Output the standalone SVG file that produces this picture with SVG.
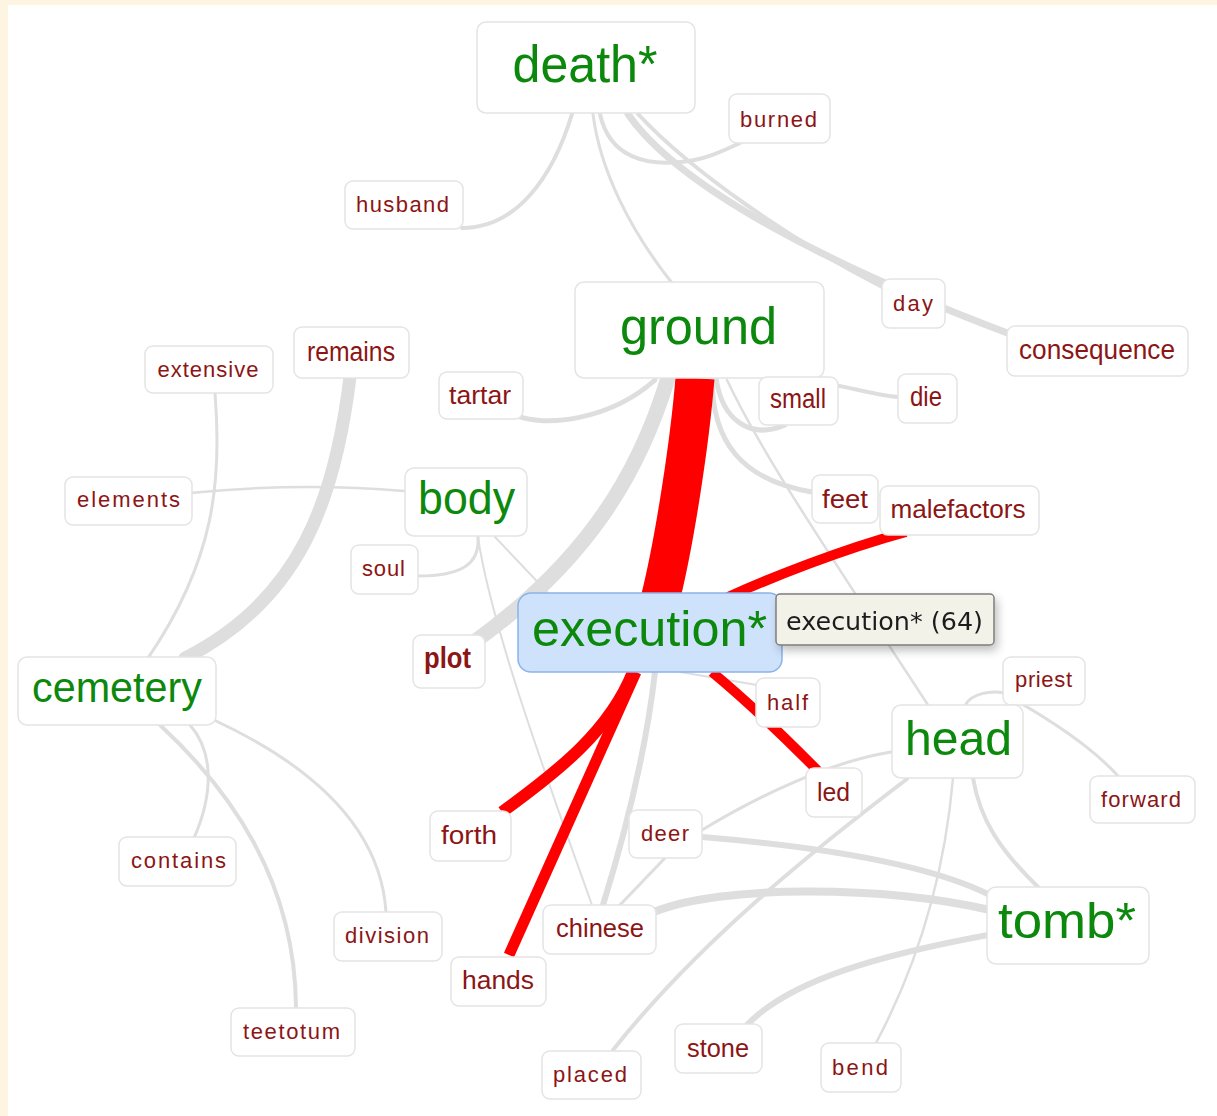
<svg xmlns="http://www.w3.org/2000/svg" width="1217" height="1116" viewBox="0 0 1217 1116">
<defs>
<style>
.bg{fill:#fdf5e2}
.nb{fill:#ffffff;stroke:#e4e4e4;stroke-width:1.5}
.t{font-family:"Liberation Sans",Arial,sans-serif;text-anchor:middle;fill:#8c1515}
.s{font-size:22px}
.m{font-size:26px}
.g{fill:#0c880c}
.e{fill:none;stroke:#dedede;stroke-linecap:round}
.r{fill:none;stroke:#ff0000;stroke-linecap:butt}
</style>
<filter id="sh" x="-20%" y="-30%" width="150%" height="180%">
<feGaussianBlur in="SourceAlpha" stdDeviation="5"/>
<feOffset dx="3" dy="5"/>
<feComponentTransfer><feFuncA type="linear" slope="0.25"/></feComponentTransfer>
<feMerge><feMergeNode/><feMergeNode in="SourceGraphic"/></feMerge>
</filter>
</defs>
<rect class="bg" x="0" y="0" width="1217" height="1116"/>
<rect x="8" y="5" width="1209" height="1111" fill="#ffffff"/>

<g id="connectors">
<path class="e" stroke-width="4" d="M572,114 C552,180 515,228 462,228"/>
<path class="e" stroke-width="3" d="M593,114 C600,170 630,230 672,283"/>
<path class="e" stroke-width="4" d="M600,114 C610,160 650,165 680,162 C705,160 725,150 740,143"/>
<path class="e" stroke-width="7" d="M628,114 C680,190 840,270 1010,334"/>
<path class="e" stroke-width="4" d="M638,114 C690,170 790,240 884,288"/>
<path class="e" stroke-width="5" d="M515,415 C545,428 610,420 655,380"/>
<path class="e" stroke-width="15" d="M668,378 C640,470 590,560 470,645"/>
<path class="e" stroke-width="13" d="M350,377 C335,500 300,600 185,658"/>
<path class="e" stroke-width="3" d="M215,393 C222,480 215,560 148,658"/>
<path class="e" stroke-width="2.5" d="M190,493 Q300,482 404,491"/>
<path class="e" stroke-width="3" d="M478,537 C480,565 460,576 418,576"/>
<path class="e" stroke-width="2" d="M478,537 C490,620 540,760 592,905"/>
<path class="e" stroke-width="2" d="M495,537 L550,595"/>
<path class="e" stroke-width="5" d="M716,378 C722,420 750,440 785,425"/>
<path class="e" stroke-width="5" d="M712,378 C712,440 740,480 812,492"/>
<path class="e" stroke-width="2.5" d="M727,380 C760,450 820,540 928,705"/>
<path class="e" stroke-width="4" d="M800,380 C840,383 870,395 898,397"/>
<path class="e" stroke-width="6" d="M655,672 C645,760 620,850 603,905"/>
<path class="e" stroke-width="2" d="M680,672 L757,685"/>
<path class="e" stroke-width="3" d="M665,858 L620,905"/>
<path class="e" stroke-width="3" d="M702,830 C760,795 830,762 891,752"/>
<path class="e" stroke-width="6" d="M702,837 C800,845 920,860 990,895"/>
<path class="e" stroke-width="8" d="M654,912 C720,885 880,885 990,910"/>
<path class="e" stroke-width="4" d="M907,779 C820,845 700,940 613,1050"/>
<path class="e" stroke-width="2.5" d="M953,778 C945,870 920,960 876,1043"/>
<path class="e" stroke-width="4" d="M973,778 C980,820 1000,850 1038,887"/>
<path class="e" stroke-width="6" d="M988,935 C880,955 790,980 747,1025"/>
<path class="e" stroke-width="3" d="M966,704 C972,694 990,690 1004,693"/>
<path class="e" stroke-width="3" d="M1015,700 C1050,720 1090,745 1118,776"/>
<path class="e" stroke-width="3" d="M190,725 C212,750 215,790 194,838"/>
<path class="e" stroke-width="4" d="M160,725 C230,790 295,880 296,1007"/>
<path class="e" stroke-width="3" d="M214,720 C300,760 380,820 386,912"/>
<path class="r" stroke-width="39" d="M695,378 C690,440 675,540 660,600"/>
<path class="r" stroke-width="10" d="M728,597 C770,578 840,550 906,532"/>
<path class="r" stroke-width="10" d="M712,672 Q760,712 818,771"/>
<path class="r" stroke-width="12" d="M633,672 C610,730 560,770 502,812"/>
<path class="r" stroke-width="11" d="M636,672 L509,955"/>
</g>

<g id="death"><rect class="nb" x="477" y="22" width="218" height="91" rx="9"/><text class="t g" x="585" y="82" font-size="52" textLength="145" lengthAdjust="spacingAndGlyphs">death*</text></g>
<g id="burned"><rect class="nb" x="729" y="94" width="101" height="49" rx="8"/><text class="t s" x="778.5" y="127" textLength="77" lengthAdjust="spacing">burned</text></g>
<g id="husband"><rect class="nb" x="345" y="181" width="118" height="48" rx="8"/><text class="t s" x="402.5" y="212" textLength="93" lengthAdjust="spacing">husband</text></g>
<g id="ground"><rect class="nb" x="575" y="282" width="249" height="96" rx="9"/><text class="t g" x="698.5" y="344" font-size="52" textLength="157" lengthAdjust="spacingAndGlyphs">ground</text></g>
<g id="day"><rect class="nb" x="882" y="279" width="63" height="49" rx="8"/><text class="t s" x="913" y="311" textLength="40" lengthAdjust="spacing">day</text></g>
<g id="consequence"><rect class="nb" x="1007" y="326" width="181" height="50" rx="8"/><text class="t" x="1097" y="359" font-size="27" textLength="156" lengthAdjust="spacingAndGlyphs">consequence</text></g>
<g id="die"><rect class="nb" x="898" y="374" width="59" height="49" rx="8"/><text class="t" x="926" y="406" font-size="27" textLength="32" lengthAdjust="spacingAndGlyphs">die</text></g>
<g id="small"><rect class="nb" x="759" y="377" width="79" height="48" rx="8"/><text class="t" x="798" y="408" font-size="27" textLength="56" lengthAdjust="spacingAndGlyphs">small</text></g>
<g id="extensive"><rect class="nb" x="145" y="346" width="128" height="47" rx="8"/><text class="t s" x="208" y="377" font-size="21" textLength="101" lengthAdjust="spacing">extensive</text></g>
<g id="remains"><rect class="nb" x="294" y="327" width="115" height="51" rx="8"/><text class="t" x="351" y="361" font-size="27" textLength="88" lengthAdjust="spacingAndGlyphs">remains</text></g>
<g id="tartar"><rect class="nb" x="439" y="372" width="84" height="47" rx="8"/><text class="t m" x="480" y="404" textLength="62" lengthAdjust="spacingAndGlyphs">tartar</text></g>
<g id="elements"><rect class="nb" x="65" y="477" width="127" height="48" rx="8"/><text class="t s" x="128.5" y="507" font-size="21" textLength="103" lengthAdjust="spacing">elements</text></g>
<g id="body"><rect class="nb" x="405" y="468" width="122" height="68" rx="9"/><text class="t g" x="466.5" y="514" font-size="46" textLength="97" lengthAdjust="spacingAndGlyphs">body</text></g>
<g id="feet"><rect class="nb" x="812" y="475" width="66" height="48" rx="8"/><text class="t m" x="845" y="508" textLength="46" lengthAdjust="spacingAndGlyphs">feet</text></g>
<g id="malefactors"><rect class="nb" x="880" y="486" width="159" height="49" rx="8"/><text class="t m" x="958" y="518" textLength="135" lengthAdjust="spacingAndGlyphs">malefactors</text></g>
<g id="soul"><rect class="nb" x="351" y="545" width="67" height="49" rx="8"/><text class="t s" x="383.5" y="576" textLength="43" lengthAdjust="spacing">soul</text></g>
<g id="cemetery"><rect class="nb" x="18" y="657" width="198" height="68" rx="9"/><text class="t g" x="117" y="702" font-size="42" textLength="170" lengthAdjust="spacingAndGlyphs">cemetery</text></g>
<g id="plot"><rect class="nb" x="413" y="635" width="72" height="53" rx="8"/><text class="t" x="447.5" y="668" font-size="30" font-weight="bold" fill="#7a0a0a" textLength="47" lengthAdjust="spacingAndGlyphs">plot</text></g>
<g id="execution"><rect x="518" y="593" width="264" height="79" rx="13" fill="#cfe2fb" stroke="#8ab3ec" stroke-width="1.5"/><text class="t g" x="649.5" y="646" font-size="50" textLength="235" lengthAdjust="spacingAndGlyphs">execution*</text></g>
<g id="priest"><rect class="nb" x="1003" y="657" width="82" height="48" rx="8"/><text class="t s" x="1043.5" y="687" textLength="57" lengthAdjust="spacing">priest</text></g>
<g id="half"><rect class="nb" x="756" y="678" width="64" height="49" rx="8"/><text class="t s" x="787.5" y="710" textLength="41" lengthAdjust="spacing">half</text></g>
<g id="head"><rect class="nb" x="892" y="705" width="131" height="73" rx="9"/><text class="t g" x="958.5" y="755" font-size="48" textLength="107" lengthAdjust="spacingAndGlyphs">head</text></g>
<g id="led"><rect class="nb" x="806" y="768" width="56" height="49" rx="8"/><text class="t m" x="833.5" y="801" textLength="33" lengthAdjust="spacingAndGlyphs">led</text></g>
<g id="forward"><rect class="nb" x="1090" y="776" width="105" height="47" rx="8"/><text class="t s" x="1141" y="807" textLength="80" lengthAdjust="spacing">forward</text></g>
<g id="forth"><rect class="nb" x="430" y="811" width="81" height="50" rx="8"/><text class="t m" x="469" y="844" textLength="56" lengthAdjust="spacingAndGlyphs">forth</text></g>
<g id="deer"><rect class="nb" x="629" y="810" width="73" height="48" rx="8"/><text class="t s" x="665" y="841" textLength="48" lengthAdjust="spacing">deer</text></g>
<g id="contains"><rect class="nb" x="119" y="837" width="117" height="49" rx="8"/><text class="t s" x="178.5" y="868" textLength="95" lengthAdjust="spacing">contains</text></g>
<g id="division"><rect class="nb" x="334" y="912" width="108" height="49" rx="8"/><text class="t s" x="387" y="943" textLength="84" lengthAdjust="spacing">division</text></g>
<g id="chinese"><rect class="nb" x="543" y="905" width="113" height="49" rx="8"/><text class="t m" x="600" y="937" textLength="88" lengthAdjust="spacingAndGlyphs">chinese</text></g>
<g id="tomb"><rect class="nb" x="987" y="887" width="162" height="77" rx="9"/><text class="t g" x="1067" y="938" font-size="50" textLength="138" lengthAdjust="spacingAndGlyphs">tomb*</text></g>
<g id="hands"><rect class="nb" x="451" y="957" width="95" height="49" rx="8"/><text class="t m" x="498" y="989" textLength="72" lengthAdjust="spacingAndGlyphs">hands</text></g>
<g id="teetotum"><rect class="nb" x="231" y="1008" width="124" height="48" rx="8"/><text class="t s" x="291.5" y="1039" textLength="97" lengthAdjust="spacing">teetotum</text></g>
<g id="stone"><rect class="nb" x="675" y="1024" width="87" height="49" rx="8"/><text class="t m" x="718" y="1057" textLength="62" lengthAdjust="spacingAndGlyphs">stone</text></g>
<g id="bend"><rect class="nb" x="821" y="1043" width="80" height="49" rx="8"/><text class="t s" x="860" y="1075" textLength="56" lengthAdjust="spacing">bend</text></g>
<g id="placed"><rect class="nb" x="542" y="1051" width="99" height="48" rx="8"/><text class="t s" x="590" y="1082" textLength="74" lengthAdjust="spacing">placed</text></g>

<g id="tooltip" filter="url(#sh)"><rect x="776" y="594" width="218" height="51" rx="4" fill="#f3f2e9" stroke="#7d7d7d" stroke-width="1.5"/><text x="884.5" y="630" font-family="'DejaVu Sans',Verdana,sans-serif" font-size="24" fill="#1e1e1e" text-anchor="middle" textLength="197" lengthAdjust="spacingAndGlyphs">execution* (64)</text></g>
</svg>
